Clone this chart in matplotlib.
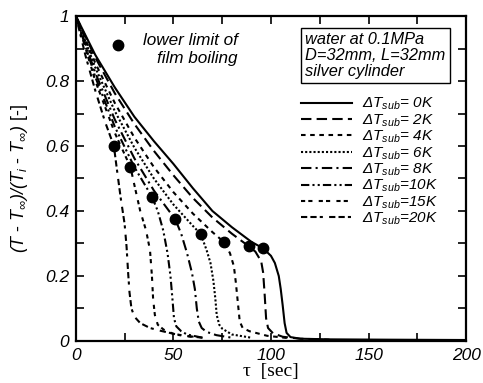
import matplotlib
matplotlib.use("Agg")
import matplotlib.pyplot as plt
from matplotlib.ticker import MultipleLocator

plt.rcParams['font.family'] = ['Liberation Sans', 'DejaVu Sans']
plt.rcParams['mathtext.fontset'] = 'custom'
plt.rcParams['mathtext.it'] = 'Liberation Sans:italic'
plt.rcParams['mathtext.rm'] = 'Liberation Sans:italic'
plt.rcParams['mathtext.sf'] = 'Liberation Sans:italic'

# ---- data ----
labels = ["0K", "2K", "4K", "6K", "8K", "10K", "15K", "20K"]

t_0K = [0, 10, 20, 30, 40, 50, 60, 70, 80, 90, 96, 100, 102, 104, 105, 106, 107, 108, 110, 115, 130, 160, 200]
y_0K = [1.0, 0.88, 0.78, 0.69, 0.615, 0.545, 0.47, 0.40, 0.35, 0.305, 0.285, 0.262, 0.24, 0.20, 0.16, 0.11, 0.055, 0.025, 0.012, 0.007, 0.005, 0.004, 0.003]

t_2K = [0, 10, 20, 30, 40, 50, 60, 70, 80, 88.5, 92, 95, 96, 96.8, 97.5, 98.5, 101, 106, 115, 130]
y_2K = [1.0, 0.872, 0.762, 0.668, 0.585, 0.51, 0.44, 0.38, 0.33, 0.292, 0.275, 0.245, 0.21, 0.14, 0.07, 0.04, 0.024, 0.013, 0.007, 0.004]

t_4K = [0, 10, 20, 30, 40, 50, 60, 70, 76, 79, 81, 82, 83, 84, 85.5, 89, 98, 110]
y_4K = [1.0, 0.855, 0.732, 0.626, 0.535, 0.458, 0.392, 0.335, 0.304, 0.27, 0.23, 0.18, 0.12, 0.06, 0.04, 0.03, 0.016, 0.008]

t_6K = [0, 10, 20, 30, 40, 50, 60, 64, 67, 69, 70.5, 71.5, 72.2, 73.5, 75, 80, 90]
y_6K = [1.0, 0.841, 0.707, 0.595, 0.5, 0.42, 0.354, 0.329, 0.28, 0.24, 0.185, 0.13, 0.08, 0.05, 0.038, 0.02, 0.01]

t_8K = [0, 10, 20, 30, 40, 51, 54, 57, 59.5, 61, 62, 63, 64.5, 67, 72, 80]
y_8K = [1.0, 0.825, 0.681, 0.562, 0.463, 0.374, 0.33, 0.27, 0.21, 0.16, 0.10, 0.06, 0.04, 0.028, 0.018, 0.01]

t_10K = [0, 10, 20, 30, 39, 42, 44.8, 47, 48.5, 49.5, 50.3, 51.5, 54, 57, 65]
y_10K = [1.0, 0.812, 0.659, 0.535, 0.444, 0.40, 0.34, 0.27, 0.20, 0.13, 0.07, 0.045, 0.03, 0.02, 0.01]

t_15K = [0, 10, 20, 28, 30, 33, 36, 38, 39, 39.6, 40.5, 42, 45, 50, 60]
y_15K = [1.0, 0.80, 0.64, 0.535, 0.48, 0.40, 0.34, 0.28, 0.20, 0.13, 0.08, 0.05, 0.035, 0.022, 0.012]

t_20K = [0, 5, 10, 15, 19.5, 21, 23, 25, 26, 26.8, 27.5, 28.5, 30, 33, 38, 43, 53, 65]
y_20K = [1.0, 0.877, 0.77, 0.674, 0.60, 0.53, 0.44, 0.36, 0.29, 0.21, 0.15, 0.10, 0.075, 0.055, 0.04, 0.032, 0.018, 0.01]

# lower limit of film boiling
dot_t = [19.5, 28, 39, 51, 64, 76, 88.5, 96]
dot_y = [0.60, 0.535, 0.444, 0.374, 0.329, 0.304, 0.292, 0.285]

series = [(t_0K, y_0K), (t_2K, y_2K), (t_4K, y_4K), (t_6K, y_6K),
          (t_8K, y_8K), (t_10K, y_10K), (t_15K, y_15K), (t_20K, y_20K)]
styles = ['-', (0, (5, 2.5)), (0, (2.2, 2.2)), (0, (1, 1)),
          (0, (5, 2, 1, 2)), (0, (4, 1.5, 1, 1.5, 1, 1.5)),
          (0, (2, 1.5, 2, 3)), (0, (3, 1.5, 3, 1.5, 1.5, 3))]

fig = plt.figure(figsize=(4.83, 3.83), dpi=100)
ax = fig.add_axes([0.157, 0.1097, 0.808, 0.8485])

for (t, y), ls, lab in zip(series, styles, labels):
    ax.plot(t, y, color='black', lw=1.5, linestyle=ls,
            label=r"$\Delta T_{sub}$=" + (" " if len(lab) == 2 else "") + lab)

ax.plot(dot_t, dot_y, 'o', color='black', ms=7.5, zorder=5)

ax.set_xlim(0, 200)
ax.set_ylim(0, 1)
ax.xaxis.set_minor_locator(MultipleLocator(25))
ax.yaxis.set_minor_locator(MultipleLocator(0.1))
ax.tick_params(which='both', direction='in', top=True, right=True, width=1.2)
ax.tick_params(which='both', length=6)
ax.tick_params(which='major', labelsize=12.5, pad=5)
for s in ax.spines.values():
    s.set_linewidth(1.6)

ax.set_xticks([0, 50, 100, 150, 200])
ax.set_xticklabels(["0", "50", "100", "150", "200"], fontstyle='italic')
ax.set_yticks([0, 0.2, 0.4, 0.6, 0.8, 1.0])
ax.set_yticklabels(["0", "0.2", "0.4", "0.6", "0.8", "1"], fontstyle='italic')

ax.set_xlabel("\u03c4  [sec]", family='Liberation Serif', fontsize=14, labelpad=0)
ax.set_ylabel(r"$(T$ - $T_{\infty})/(T_i$ - $T_{\infty})$ [-]", fontsize=13)
ax.yaxis.set_label_coords(-0.118, 0.5)

# legend marker + text for dots
ax.plot([21.5], [0.91], 'o', color='black', ms=7.5)
ax.text(83, 0.925, "lower limit of", ha='right', va='center', fontsize=12.3, fontstyle='italic')
ax.text(83, 0.868, "film boiling", ha='right', va='center', fontsize=12.3, fontstyle='italic')

ax.text(0.588, 0.952, "water at 0.1MPa\nD=32mm, L=32mm\nsilver cylinder",
        transform=ax.transAxes, ha='left', va='top', fontsize=11.8, fontstyle='italic',
        linespacing=1.1,
        bbox=dict(boxstyle='square,pad=0.25', fc='white', ec='black', lw=1))

leg = ax.legend(loc='upper left', bbox_to_anchor=(0.578, 0.754), frameon=False,
                fontsize=11, handlelength=3.3, handletextpad=0.65,
                labelspacing=0.0, borderpad=0, borderaxespad=0)
for txt in leg.get_texts():
    txt.set_fontstyle('italic')

fig.savefig("out.png", dpi=100)
